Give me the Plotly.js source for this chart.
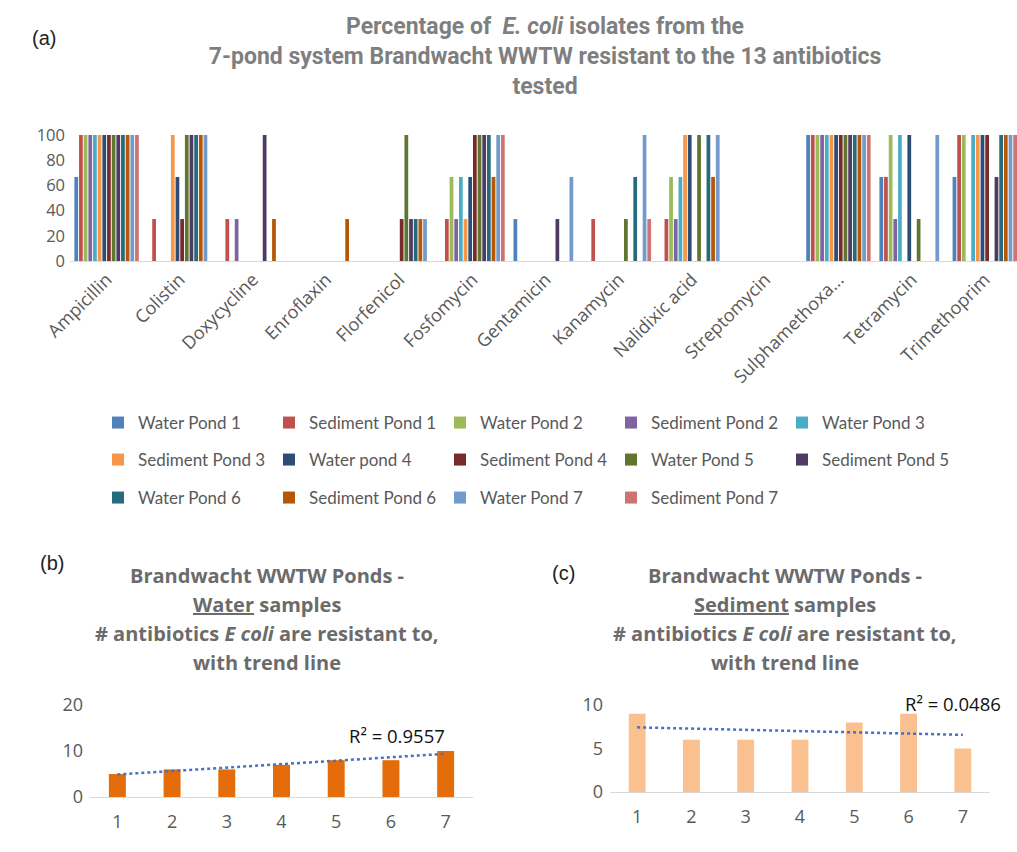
<!DOCTYPE html>
<html><head><meta charset="utf-8">
<script src="https://cdn.plot.ly/plotly-3.0.1.min.js"></script>
<style>html,body{margin:0;padding:0;background:#fff}#chart{width:1017px;height:852px}</style>
</head><body><div id="chart"></div>
<script>
// ---------- DATA ----------
const antibiotics = ['Ampicillin','Colistin','Doxycycline','Enroflaxin','Florfenicol','Fosfomycin','Gentamicin','Kanamycin','Nalidixic acid','Streptomycin','Sulphamethoxa...','Tetramycin','Trimethoprim'];
const pondNames = ['Water Pond 1','Sediment Pond 1','Water Pond 2','Sediment Pond 2','Water Pond 3','Sediment Pond 3','Water pond 4','Sediment Pond 4','Water Pond 5','Sediment Pond 5','Water Pond 6','Sediment Pond 6','Water Pond 7','Sediment Pond 7'];

const waterPond1    = [66.7, 0,    0,    0,    0,    0,    33.3, 0,    0,    0, 100, 66.7, 66.7];
const sedimentPond1 = [100,  33.3, 33.3, 0,    0,    33.3, 0,    33.3, 33.3, 0, 100, 66.7, 100];
const waterPond2    = [100,  0,    0,    0,    0,    66.7, 0,    0,    66.7, 0, 100, 100,  100];
const sedimentPond2 = [100,  0,    33.3, 0,    0,    33.3, 0,    0,    33.3, 0, 100, 33.3, 0];
const waterPond3    = [100,  0,    0,    0,    0,    66.7, 0,    0,    66.7, 0, 100, 100,  100];
const sedimentPond3 = [100,  100,  0,    0,    0,    33.3, 0,    0,    100,  0, 100, 0,    100];
const waterPond4    = [100,  66.7, 0,    0,    0,    66.7, 0,    0,    100,  0, 100, 100,  100];
const sedimentPond4 = [100,  33.3, 0,    0,    33.3, 100,  0,    0,    0,    0, 100, 0,    100];
const waterPond5    = [100,  100,  0,    0,    100,  100,  0,    33.3, 100,  0, 100, 33.3, 0];
const sedimentPond5 = [100,  100,  100,  0,    33.3, 100,  33.3, 0,    0,    0, 100, 0,    66.7];
const waterPond6    = [100,  100,  0,    0,    33.3, 100,  0,    66.7, 100,  0, 100, 0,    100];
const sedimentPond6 = [100,  100,  33.3, 33.3, 33.3, 66.7, 0,    0,    66.7, 0, 100, 0,    100];
const waterPond7    = [100,  100,  0,    0,    33.3, 100,  66.7, 100,  100,  0, 100, 100,  100];
const sedimentPond7 = [100,  0,    0,    0,    0,    100,  0,    33.3, 0,    0, 100, 0,    100];

const pondNumbers = [1,2,3,4,5,6,7];
const waterCounts    = [5, 6, 6, 7, 8, 8, 10];
const sedimentCounts = [9, 6, 6, 6, 8, 9, 5];
const waterR2Label = 'R² = 0.9557';
const sedimentR2Label = 'R² = 0.0486';

// ---------- STYLE ----------
const seriesValues = [waterPond1, sedimentPond1, waterPond2, sedimentPond2, waterPond3, sedimentPond3, waterPond4, sedimentPond4, waterPond5, sedimentPond5, waterPond6, sedimentPond6, waterPond7, sedimentPond7];
const pondColors = ['#4F81BD','#C0504D','#9BBB59','#8064A2','#4BACC6','#F79646','#2C4D75','#772C2A','#5F7530','#4D3B62','#276A7C','#B65708','#729ACA','#CD7371'];
const legendRow = [1,1,1,1,1,2,2,2,2,2,3,3,3,3];

const W = 1017, H = 852;
const px = v => v / W;
const py = v => 1 - v / H;
const condensed = 'Roboto, Open Sans, sans-serif';
const calibri = 'Open Sans, Lato, sans-serif';
const gray = '#595959';

function linFit(xs, ys) {
  const n = xs.length;
  const mx = xs.reduce((a,b)=>a+b,0)/n, my = ys.reduce((a,b)=>a+b,0)/n;
  let sxy = 0, sxx = 0;
  for (let i=0;i<n;i++){ sxy += (xs[i]-mx)*(ys[i]-my); sxx += (xs[i]-mx)**2; }
  const m = sxy/sxx, b = my - m*mx;
  return xs.map(x => m*x + b);
}

const traces = [];
seriesValues.forEach((vals, i) => {
  traces.push({
    type: 'bar', x: antibiotics, y: vals, name: pondNames[i],
    marker: {color: pondColors[i]}, xaxis: 'x', yaxis: 'y',
    legend: legendRow[i] === 1 ? 'legend' : (legendRow[i] === 2 ? 'legend2' : 'legend3'),
    hoverinfo: 'x+y+name'
  });
});
traces.push({type:'bar', x: pondNumbers, y: waterCounts, width: 0.31, marker:{color:'#E46C0A'}, xaxis:'x2', yaxis:'y2', showlegend:false, name:'Water'});
traces.push({type:'scatter', mode:'lines', x: pondNumbers, y: linFit(pondNumbers, waterCounts), line:{color:'#4472C4', width:2.5, dash:'dot'}, xaxis:'x2', yaxis:'y2', showlegend:false, name:'Trend'});
traces.push({type:'bar', x: pondNumbers, y: sedimentCounts, width: 0.31, marker:{color:'#FAC090'}, xaxis:'x3', yaxis:'y3', showlegend:false, name:'Sediment'});
traces.push({type:'scatter', mode:'lines', x: pondNumbers, y: linFit(pondNumbers, sedimentCounts), line:{color:'#4472C4', width:2.5, dash:'dot'}, xaxis:'x3', yaxis:'y3', showlegend:false, name:'Trend'});

function legendAt(y) {
  return {orientation:'h', x: px(98), xanchor:'left', y: py(y), yanchor:'middle',
    entrywidth: 126, entrywidthmode:'pixels', font:{family: 'Lato, Open Sans, sans-serif', size:17, color: gray},
    bgcolor:'rgba(0,0,0,0)', traceorder:'normal', itemclick:false, itemdoubleclick:false};
}

const subTitle = (cx, word) => [
  {text:'<b>Brandwacht WWTW Ponds -</b>', y:575},
  {text:'<b><u>'+word+'</u> samples</b>', y:604},
  {text:'<b># antibiotics <i>E coli</i> are resistant to,</b>', y:633},
  {text:'<b>with trend line</b>', y:662}
].map(l => ({text:l.text, x:px(cx), y:py(l.y), xref:'paper', yref:'paper', xanchor:'center', yanchor:'middle', showarrow:false, font:{family: calibri, size:20, color:'#6b6b6b'}}));

const annotations = [
  {text:'(a)', x:px(30), y:py(38), xref:'paper', yref:'paper', xanchor:'left', yanchor:'middle', showarrow:false, font:{family:'Liberation Sans, Arial', size:20, color:'#222'}},
  {text:'(b)', x:px(38), y:py(563), xref:'paper', yref:'paper', xanchor:'left', yanchor:'middle', showarrow:false, font:{family:'Liberation Sans, Arial', size:20, color:'#222'}},
  {text:'(c)', x:px(550), y:py(573), xref:'paper', yref:'paper', xanchor:'left', yanchor:'middle', showarrow:false, font:{family:'Liberation Sans, Arial', size:20, color:'#222'}},
  ...subTitle(267, 'Water'),
  ...subTitle(785, 'Sediment'),
  {text: waterR2Label, x:px(397), y:py(735), xref:'paper', yref:'paper', xanchor:'center', yanchor:'middle', showarrow:false, font:{family: calibri, size:18.5, color:'#111'}},
  {text: sedimentR2Label, x:px(953), y:py(703), xref:'paper', yref:'paper', xanchor:'center', yanchor:'middle', showarrow:false, font:{family: calibri, size:18.5, color:'#111'}}
];

const layout = {
  width: W, height: H,
  margin: {l:0, r:0, t:0, b:0},
  paper_bgcolor:'#fff', plot_bgcolor:'rgba(0,0,0,0)',
  title: {text:'<b>Percentage of  <i>E. coli</i> isolates from the<br>7-pond system Brandwacht WWTW resistant to the 13 antibiotics<br>tested</b>',
    x: px(545), xanchor:'center', xref:'paper', y: py(34), yanchor:'middle', yref:'paper',
    font:{family: condensed, size:23, color:'#7f7f7f'}},
  barmode:'group', bargap:0.107, bargroupgap:0.2,
  showlegend:true,
  legend: legendAt(423), legend2: legendAt(460), legend3: legendAt(498),
  xaxis: {domain:[px(70), 1], range:[-0.5, 12.44], anchor:'y', tickangle:-45, ticks:'', showline:true, linecolor:'#D9D9D9', linewidth:1,
    tickfont:{family: calibri, size:18, color: gray}, showgrid:false, fixedrange:true},
  yaxis: {domain:[py(261), py(135)], range:[0,100], dtick:20, anchor:'x', ticks:'', showgrid:false, zeroline:false,
    tickfont:{family: calibri, size:16.5, color: gray}, fixedrange:true, ticklabelstandoff: 4},
  xaxis2: {domain:[px(90), px(473)], range:[0.5,7.5], anchor:'y2', tickvals: pondNumbers, ticks:'', showline:true, linecolor:'#D9D9D9',
    tickfont:{family: calibri, size:18, color: gray}, showgrid:false, ticklabelstandoff: 8},
  yaxis2: {domain:[py(797), py(705)], range:[0,20], dtick:10, anchor:'x2', ticks:'', showgrid:false, zeroline:false,
    tickfont:{family: calibri, size:18, color: gray}, ticklabelstandoff: 6},
  xaxis3: {domain:[px(610), px(990)], range:[0.5,7.5], anchor:'y3', tickvals: pondNumbers, ticks:'', showline:true, linecolor:'#D9D9D9',
    tickfont:{family: calibri, size:18, color: gray}, showgrid:false, ticklabelstandoff: 8},
  yaxis3: {domain:[py(792), py(705)], range:[0,10], dtick:5, anchor:'x3', ticks:'', showgrid:false, zeroline:false,
    tickfont:{family: calibri, size:18, color: gray}, ticklabelstandoff: 6},
  annotations: annotations
};

Plotly.newPlot('chart', traces, layout, {displayModeBar:false, responsive:false});
</script>
</body></html>
